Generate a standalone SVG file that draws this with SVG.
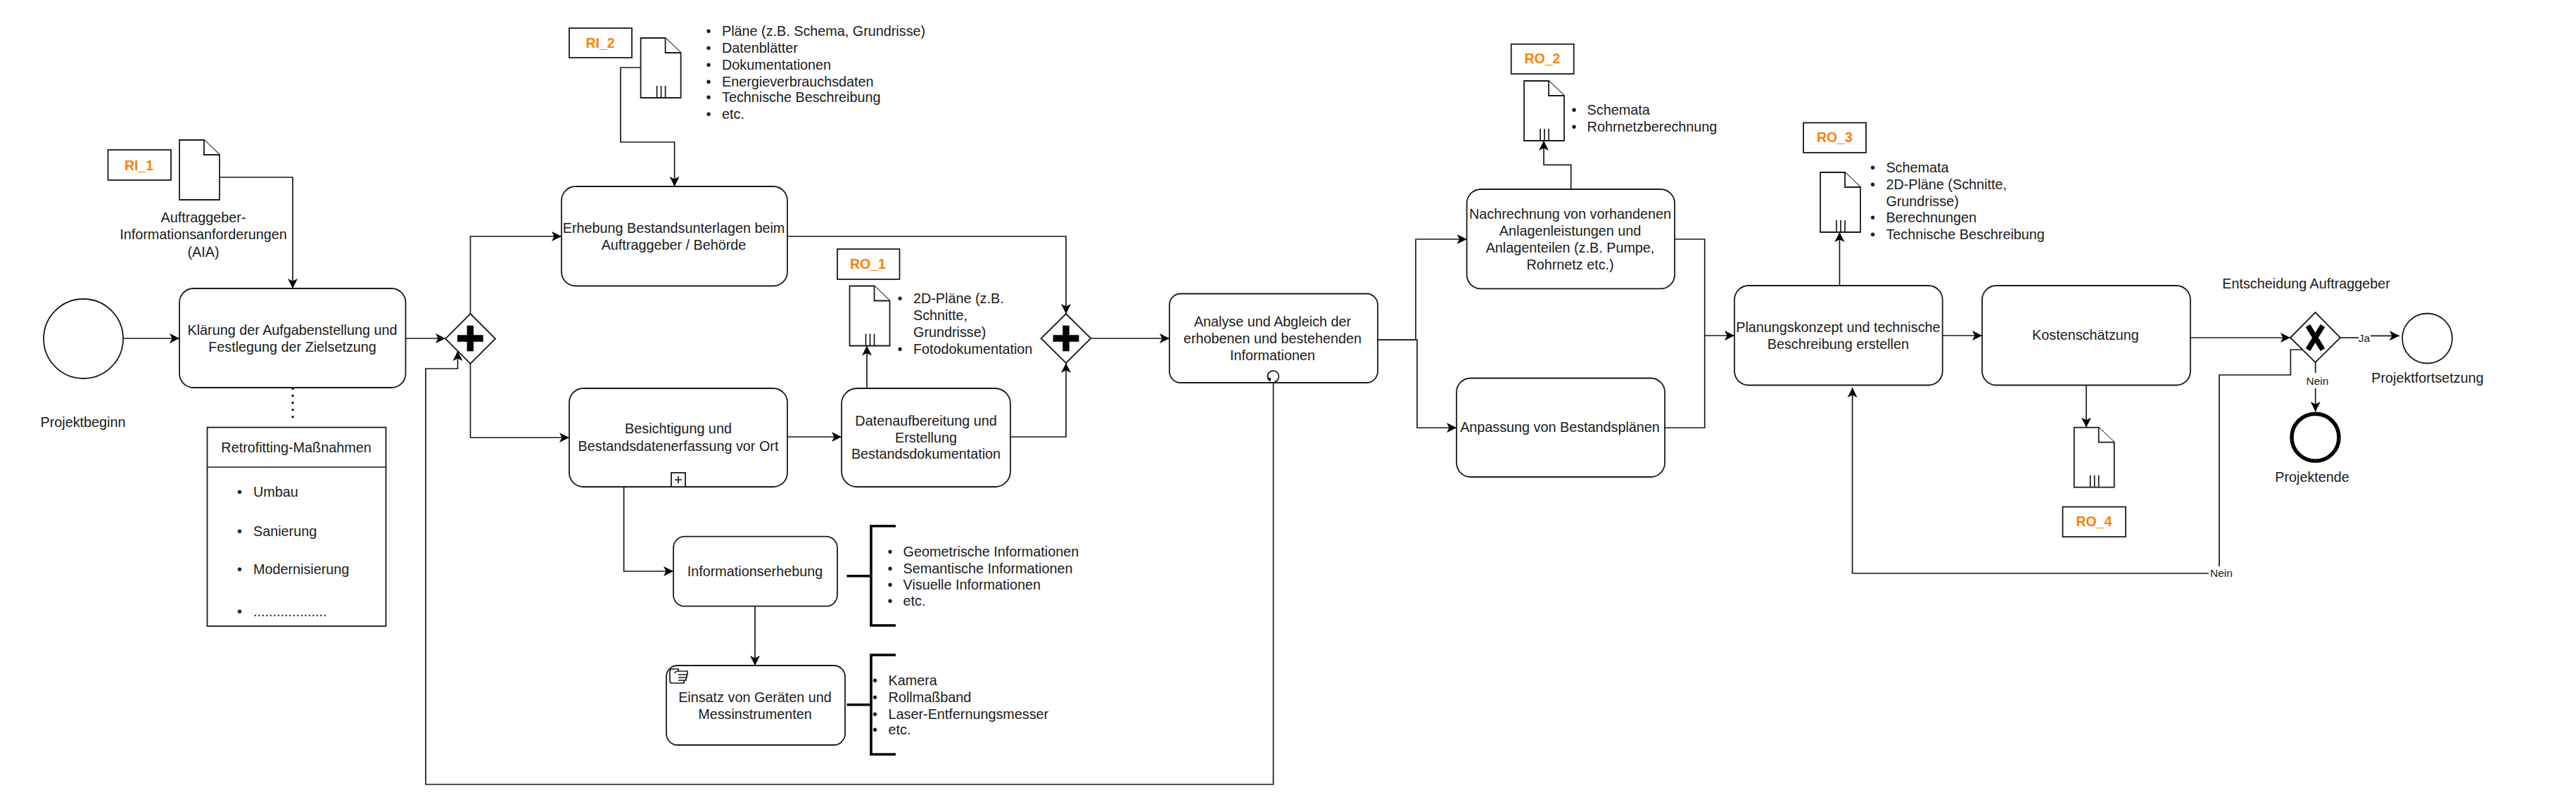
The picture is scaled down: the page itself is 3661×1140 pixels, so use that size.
<svg xmlns="http://www.w3.org/2000/svg" width="3661" height="1140" viewBox="0 0 3661 1140">
<style>
text{font-family:"Liberation Sans",Arial,sans-serif;font-size:19.8px;fill:#1a1a1a}
.c{text-anchor:middle}
.s{font-size:15.5px}
.o{font-weight:bold;fill:#ff8000;text-anchor:middle;font-size:19.5px}
.n{fill:#fff;stroke:#1a1a1a;stroke-width:1.8}
.l{fill:none;stroke:#1a1a1a;stroke-width:1.7}
.a{fill:none;stroke:#1a1a1a;stroke-width:1.7;marker-end:url(#arr)}
.b{fill:none;stroke:#000;stroke-width:3.6}
.m{fill:#000;stroke:none}
</style>
<defs>
<marker id="arr" markerUnits="userSpaceOnUse" markerWidth="16" markerHeight="16" refX="14" refY="8" orient="auto">
<path d="M14,8 L0,1 L3.500,8 L0,15 Z" fill="#000"/>
</marker>
<g id="doc"><path class="n" d="M0,0 H35 L57,21 V85 H0 Z"/><path class="n" d="M35,0 V21 H57"/></g>
<g id="docm"><path class="n" d="M0,0 H35 L57,21 V85 H0 Z"/><path class="n" d="M35,0 V21 H57"/><path class="l" d="M23,68 V85 M29,68 V85 M35,68 V85"/></g>
<g id="plus"><path class="m" d="M-4.700,-18.300 H4.700 V-4.700 H18.400 V4.700 H4.700 V18.300 H-4.700 V4.700 H-18.400 V-4.700 H-4.700 Z"/></g>
</defs>
<rect width="3661" height="1140" fill="#fff"/>
<g id="connectors">
<path class="a" d="M175,481 H255"/>
<path class="a" d="M312,252 H416 V410"/>
<path class="a" d="M576.500,481 H633"/>
<path d="M416,551 V600" fill="none" stroke="#1a1a1a" stroke-width="3" stroke-dasharray="3 7"/>
<path class="a" d="M668.500,446 V336 H798"/>
<path class="a" d="M668.500,517 V622 H809"/>
<path class="a" d="M910.600,96 H882 V202 H958.600 V265"/>
<path class="a" d="M1119,336 H1515 V446"/>
<path class="a" d="M1119,621 H1196"/>
<path class="a" d="M1232,552 V491.500"/>
<path class="a" d="M1436,621 H1515 V516"/>
<path class="a" d="M1550.400,481 H1662"/>
<path class="a" d="M886.600,692 V812 H957"/>
<path class="a" d="M1073,861.700 V946"/>
<path class="a" d="M1809.600,544 V1115 H605 V524 H650.500 V499"/>
<path class="a" d="M1958,483 H2012 V340 H2084.600"/>
<path class="a" d="M1958,483 H2014 V608 H2070"/>
<path class="a" d="M2232.700,269 V234.400 H2194 V200"/>
<path class="l" d="M2380,340 H2422.700 V608 H2366"/>
<path class="a" d="M2422.700,477 H2465"/>
<path class="a" d="M2614.400,406 V330"/>
<path class="a" d="M2760.700,477 H2817"/>
<path class="a" d="M2965,547.500 V607.600"/>
<path class="a" d="M3113,480 H3255"/>
<path class="a" d="M3273.700,497 H3255.400 V533 H3154 V815 H2632.600 V551"/>
<path class="l" d="M3326,480 H3352"/>
<path class="a" d="M3369,477.300 H3410"/>
<path class="a" d="M3290.700,515 V585"/>
</g>
<g id="projektbeginn"><circle class="n" cx="118.500" cy="481.500" r="56.500"/><text class="c" x="118" y="607">Projektbeginn</text></g>
<g id="ri1"><rect class="n" x="153.500" y="213" width="89.500" height="43"/><text class="o" x="197.500" y="241.500">RI_1</text></g>
<g id="doc-aia"><use href="#doc" x="255" y="199"/><text class="c" x="289"><tspan x="289" y="316">Auftraggeber-</tspan><tspan x="289" y="340">Informationsanforderungen</tspan><tspan x="289" y="364.500">(AIA)</tspan></text></g>
<g id="task-klaerung"><rect class="n" x="255" y="410" width="321.500" height="141" rx="20"/><text class="c"><tspan x="415.500" y="476">Klärung der Aufgabenstellung und</tspan><tspan x="415.500" y="500">Festlegung der Zielsetzung</tspan></text></g>
<g id="retrofitting"><rect class="n" x="294.500" y="607.500" width="254" height="282.500"/><path class="l" d="M294.500,664 H548.500"/><text class="c" x="421" y="643">Retrofitting-Maßnahmen</text>
<text y="706"><tspan x="337">•</tspan><tspan x="360">Umbau</tspan></text>
<text y="762"><tspan x="337">•</tspan><tspan x="360">Sanierung</tspan></text>
<text y="816"><tspan x="337">•</tspan><tspan x="360">Modernisierung</tspan></text>
<text y="876"><tspan x="337">•</tspan><tspan x="360">...................</tspan></text></g>
<g id="gateway-1"><path class="n" d="M668.500,446 L704,481.500 L668.500,517 L633,481.500 Z"/><use href="#plus" x="668.300" y="481"/></g>
<g id="ri2"><rect class="n" x="809" y="40" width="89" height="42"/><text class="o" x="853" y="68">RI_2</text></g>
<g id="doc-ri2"><use href="#docm" x="910.600" y="54"/>
<text y="51"><tspan x="1003.500">•</tspan><tspan x="1026">Pläne (z.B. Schema, Grundrisse)</tspan></text>
<text y="75"><tspan x="1003.500">•</tspan><tspan x="1026">Datenblätter</tspan></text>
<text y="99"><tspan x="1003.500">•</tspan><tspan x="1026">Dokumentationen</tspan></text>
<text y="123"><tspan x="1003.500">•</tspan><tspan x="1026">Energieverbrauchsdaten</tspan></text>
<text y="145"><tspan x="1003.500">•</tspan><tspan x="1026">Technische Beschreibung</tspan></text>
<text y="169"><tspan x="1003.500">•</tspan><tspan x="1026">etc.</tspan></text></g>
<g id="task-erhebung"><rect class="n" x="798" y="265" width="321" height="141.500" rx="20"/><text class="c"><tspan x="957.500" y="331">Erhebung Bestandsunterlagen beim</tspan><tspan x="957.500" y="355">Auftraggeber / Behörde</tspan></text></g>
<g id="task-besichtigung"><rect class="n" x="809" y="552" width="310" height="140" rx="20"/><text class="c"><tspan x="964" y="616">Besichtigung und</tspan><tspan x="964" y="641">Bestandsdatenerfassung vor Ort</tspan></text><rect class="n" x="954" y="672" width="20" height="20"/><path class="l" d="M964,677 V687 M959,682 H969"/></g>
<g id="ro1"><rect class="n" x="1190" y="354" width="88.500" height="43"/><text class="o" x="1233.500" y="382">RO_1</text></g>
<g id="doc-ro1"><use href="#docm" x="1207.500" y="406.500"/>
<text y="431"><tspan x="1275.500">•</tspan><tspan x="1298">2D-Pläne (z.B.</tspan></text>
<text x="1298" y="455">Schnitte,</text>
<text x="1298" y="479">Grundrisse)</text>
<text y="503"><tspan x="1275.500">•</tspan><tspan x="1298">Fotodokumentation</tspan></text></g>
<g id="task-daten"><rect class="n" x="1196" y="552" width="240" height="140" rx="22"/><text class="c"><tspan x="1316" y="605">Datenaufbereitung und</tspan><tspan x="1316" y="629">Erstellung</tspan><tspan x="1316" y="652">Bestandsdokumentation</tspan></text></g>
<g id="gateway-2"><path class="n" d="M1515,446 L1550.400,481 L1515,516 L1479.500,481 Z"/><use href="#plus" x="1515" y="481"/></g>
<g id="task-info"><rect class="n" x="957" y="762.700" width="233" height="99" rx="16"/><text class="c" x="1073" y="818.500">Informationserhebung</text></g>
<g id="anno-info"><path class="b" d="M1273,747.700 H1238 V889 H1273 M1203.500,818.700 H1238"/>
<text y="791"><tspan x="1261.500">•</tspan><tspan x="1283.600">Geometrische Informationen</tspan></text>
<text y="815"><tspan x="1261.500">•</tspan><tspan x="1283.600">Semantische Informationen</tspan></text>
<text y="838"><tspan x="1261.500">•</tspan><tspan x="1283.600">Visuelle Informationen</tspan></text>
<text y="861"><tspan x="1261.500">•</tspan><tspan x="1283.600">etc.</tspan></text></g>
<g id="task-einsatz"><rect class="n" x="947" y="946" width="254" height="113" rx="16"/><text class="c"><tspan x="1073" y="998">Einsatz von Geräten und</tspan><tspan x="1073" y="1022">Messinstrumenten</tspan></text>
<path class="l" d="M952,968 V955 Q952,951 956,951 H964 V954 H977 V959 H976 V963 H975 V967 H972 V970 Q972,971 970,971 H955 Q952,971 952,968 Z M964,954 Q960,954 959,957 M964,959 H976 M964,963 H975 M964,967 H972"/></g>
<g id="anno-einsatz"><path class="b" d="M1273,931 H1238 V1072.300 H1273 M1203.500,1001.700 H1238"/>
<text y="974"><tspan x="1240">•</tspan><tspan x="1262.600">Kamera</tspan></text>
<text y="998"><tspan x="1240">•</tspan><tspan x="1262.600">Rollmaßband</tspan></text>
<text y="1022"><tspan x="1240">•</tspan><tspan x="1262.600">Laser-Entfernungsmesser</tspan></text>
<text y="1044"><tspan x="1240">•</tspan><tspan x="1262.600">etc.</tspan></text></g>
<g id="task-analyse"><rect class="n" x="1662" y="417.500" width="296" height="126.500" rx="16"/><text class="c"><tspan x="1808.500" y="464">Analyse und Abgleich der</tspan><tspan x="1808.500" y="488">erhobenen und bestehenden</tspan><tspan x="1808.500" y="512">Informationen</tspan></text>
<path class="l" d="M1803.500,540.500 A8,8 0 1 1 1811,543"/><path class="m" d="M1801,536 L1806.500,538 L1805,543 Z"/></g>
<g id="task-nachrechnung"><rect class="n" x="2084.600" y="269" width="295.400" height="141.400" rx="20"/><text class="c"><tspan x="2231.500" y="311">Nachrechnung von vorhandenen</tspan><tspan x="2231.500" y="335">Anlagenleistungen und</tspan><tspan x="2231.500" y="359">Anlagenteilen (z.B. Pumpe,</tspan><tspan x="2231.500" y="382.500">Rohrnetz etc.)</tspan></text></g>
<g id="ro2"><rect class="n" x="2147.700" y="62.700" width="89" height="42.300"/><text class="o" x="2192" y="90">RO_2</text></g>
<g id="doc-ro2"><use href="#docm" x="2166" y="115"/>
<text y="163"><tspan x="2233.500">•</tspan><tspan x="2255.600">Schemata</tspan></text>
<text y="187"><tspan x="2233.500">•</tspan><tspan x="2255.600">Rohrnetzberechnung</tspan></text></g>
<g id="task-anpassung"><rect class="n" x="2070" y="537.500" width="296" height="140.500" rx="20"/><text class="c" x="2217" y="614">Anpassung von Bestandsplänen</text></g>
<g id="task-planung"><rect class="n" x="2465" y="406" width="295.700" height="141.500" rx="20"/><text class="c"><tspan x="2612.400" y="472">Planungskonzept und technische</tspan><tspan x="2612.400" y="496">Beschreibung erstellen</tspan></text></g>
<g id="ro3"><rect class="n" x="2563" y="174.500" width="89" height="42.500"/><text class="o" x="2607.500" y="202">RO_3</text></g>
<g id="doc-ro3"><use href="#docm" x="2587" y="245"/>
<text y="245"><tspan x="2658">•</tspan><tspan x="2680.400">Schemata</tspan></text>
<text y="269"><tspan x="2658">•</tspan><tspan x="2680.400">2D-Pläne (Schnitte,</tspan></text>
<text x="2680.400" y="293">Grundrisse)</text>
<text y="316"><tspan x="2658">•</tspan><tspan x="2680.400">Berechnungen</tspan></text>
<text y="340"><tspan x="2658">•</tspan><tspan x="2680.400">Technische Beschreibung</tspan></text></g>
<g id="task-kosten"><rect class="n" x="2817" y="406" width="296" height="141.500" rx="20"/><text class="c" x="2964" y="483">Kostenschätzung</text></g>
<g id="doc-ro4"><use href="#docm" x="2947.700" y="607.600"/></g>
<g id="ro4"><rect class="n" x="2931.500" y="720.500" width="89.500" height="42.500"/><text class="o" x="2976" y="748">RO_4</text></g>
<g id="gateway-3"><path class="n" d="M3290.500,444 L3326,480 L3290.500,515 L3255,480 Z"/><path d="M3280,463 L3301,497 M3301,463 L3280,497" fill="none" stroke="#000" stroke-width="7.500"/><text class="c" x="3277.600" y="410">Entscheidung Auftraggeber</text></g>
<g id="label-ja"><text class="c s" x="3360" y="486">Ja</text></g>
<g id="label-nein-1"><rect x="3275" y="530" width="37" height="22" fill="#fff"/><text class="c s" x="3293.500" y="547">Nein</text></g>
<g id="label-nein-2"><rect x="3139" y="805" width="36" height="20" fill="#fff"/><text class="c s" x="3157" y="820">Nein</text></g>
<g id="end-fortsetzung"><circle class="n" cx="3449.600" cy="481" r="35.500"/><text class="c" x="3450" y="544">Projektfortsetzung</text></g>
<g id="end-projektende"><circle cx="3290.500" cy="621.700" r="33.500" fill="#fff" stroke="#000" stroke-width="5.500"/><text class="c" x="3286" y="685">Projektende</text></g>
</svg>
